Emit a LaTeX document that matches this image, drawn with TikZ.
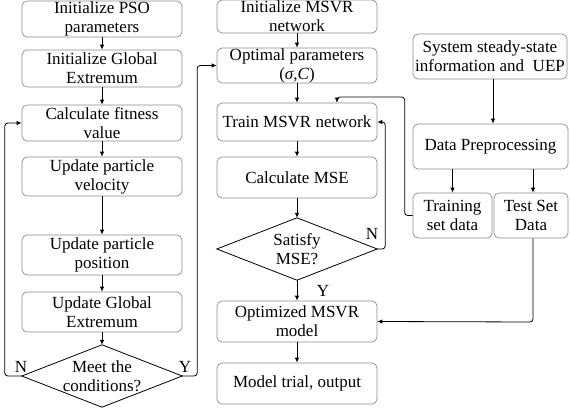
\documentclass[tikz,border=0pt]{standalone}
\usepackage{fontspec}
\setmainfont{Liberation Serif}
\usetikzlibrary{arrows.meta,calc}
\tikzset{
  box/.style={draw=black!45, rounded corners=5pt, inner sep=0pt, align=center,
    line width=0.7pt, font=\fontsize{17}{19}\selectfont},
  decision/.style={inner sep=0pt, align=center, font=\fontsize{17}{19}\selectfont},
  lbl/.style={inner sep=0pt, font=\fontsize{17}{19}\selectfont},
  arr/.style={-{Latex[length=5pt,width=4.5pt]}, line width=0.8pt},
  link/.style={line width=0.8pt, rounded corners=3pt}
}
\begin{document}
\begin{tikzpicture}[x=1pt,y=-1pt]
\useasboundingbox (0,0) rectangle (570,409);

% PSO column
\node[box, minimum width=160, minimum height=36] (p1) at (102,19) {Initialize PSO\\parameters};
\node[box, minimum width=160, minimum height=37] (p2) at (102,68.5) {Initialize Global\\Extremum};
\node[box, minimum width=160, minimum height=36] (p3) at (102,123) {Calculate fitness\\value};
\node[box, minimum width=160, minimum height=39] (p4) at (102,176.5) {Update particle\\velocity};
\node[box, minimum width=160, minimum height=40] (p5) at (102,255) {Update particle\\position};
\node[box, minimum width=160, minimum height=40] (p6) at (102,312) {Update Global\\Extremum};
\node[decision, minimum width=160, minimum height=62] (d1) at (102,376) {Meet the\\conditions?};
\draw[line width=0.8pt] (d1.north) -- (d1.east) -- (d1.south) -- (d1.west) -- cycle;

% MSVR column
\node[box, minimum width=160, minimum height=33] (m1) at (297,16.5) {Initialize MSVR\\network};
\node[box, minimum width=160, minimum height=35] (m2) at (297,65.5) {Optimal parameters\\(\textit{σ},\textit{C})};
\node[box, minimum width=160, minimum height=38] (m3) at (297,122) {Train MSVR network};
\node[box, minimum width=160, minimum height=41] (m4) at (297,177.5) {Calculate MSE};
\node[decision, minimum width=160, minimum height=62] (d2) at (297,249) {Satisfy\\MSE?};
\draw[line width=0.8pt] (d2.north) -- (d2.east) -- (d2.south) -- (d2.west) -- cycle;
\node[box, minimum width=160, minimum height=41] (m5) at (297,321.5) {Optimized MSVR\\model};
\node[box, minimum width=160, minimum height=41] (m6) at (297,383.5) {Model trial, output};

% data column
\node[box, minimum width=154, minimum height=45] (r1) at (490,56.5) {System steady-state\\information and\ \ UEP};
\node[box, minimum width=155, minimum height=45] (r2) at (490.5,146.5) {Data Preprocessing};
\node[box, minimum width=79, minimum height=45] (r3) at (452.5,215.5) {Training\\set data};
\node[box, minimum width=74, minimum height=45] (r4) at (531,215.5) {Test Set\\Data};

% straight flow
\draw[arr] (p1) -- (p2);
\draw[arr] (p2) -- (p3);
\draw[arr] (p3) -- (p4);
\draw[arr] (p4) -- (p5);
\draw[arr] (p5) -- (p6);
\draw[arr] (p6) -- (d1.north);
\draw[arr] (m1) -- (m2);
\draw[arr] (m2) -- (m3);
\draw[arr] (m3) -- (m4);
\draw[arr] (m4) -- (d2.north);
\draw[arr] (d2.south) -- (m5);
\draw[arr] (m5) -- (m6);
\draw[arr] (r1.south -| 493,0) -- (r2.north -| 493,0);
\draw[arr] (r2.south -| r3.north) -- (r3.north);
\draw[arr] (r2.south -| 533,0) -- (r4.north -| 533,0);

% loops and feeds
\draw[arr, link] (d1.west) -- ++(-17,0) |- (p3.west);
\draw[arr, link] (d1.east) -- ++(15,0) |- (m2.west);
\draw[arr, link] (d2.east) -- ++(8,0) |- (m3.east);
\coordinate (tj) at (337,97);
\draw[arr, link] (r3.west) -- ++(-8,0) |- (tj) -- (tj |- m3.north);
\draw[arr, link] (r4.south -| 533,0) -- (533,322) -- (m5.east);

% branch labels
\node[lbl] (n1) at (21,367) {N};
\node[lbl] (y1) at (185,367) {Y};
\node[lbl] (n2) at (372,234) {N};
\node[lbl] (y2) at (323,291) {Y};
\end{tikzpicture}
\end{document}
